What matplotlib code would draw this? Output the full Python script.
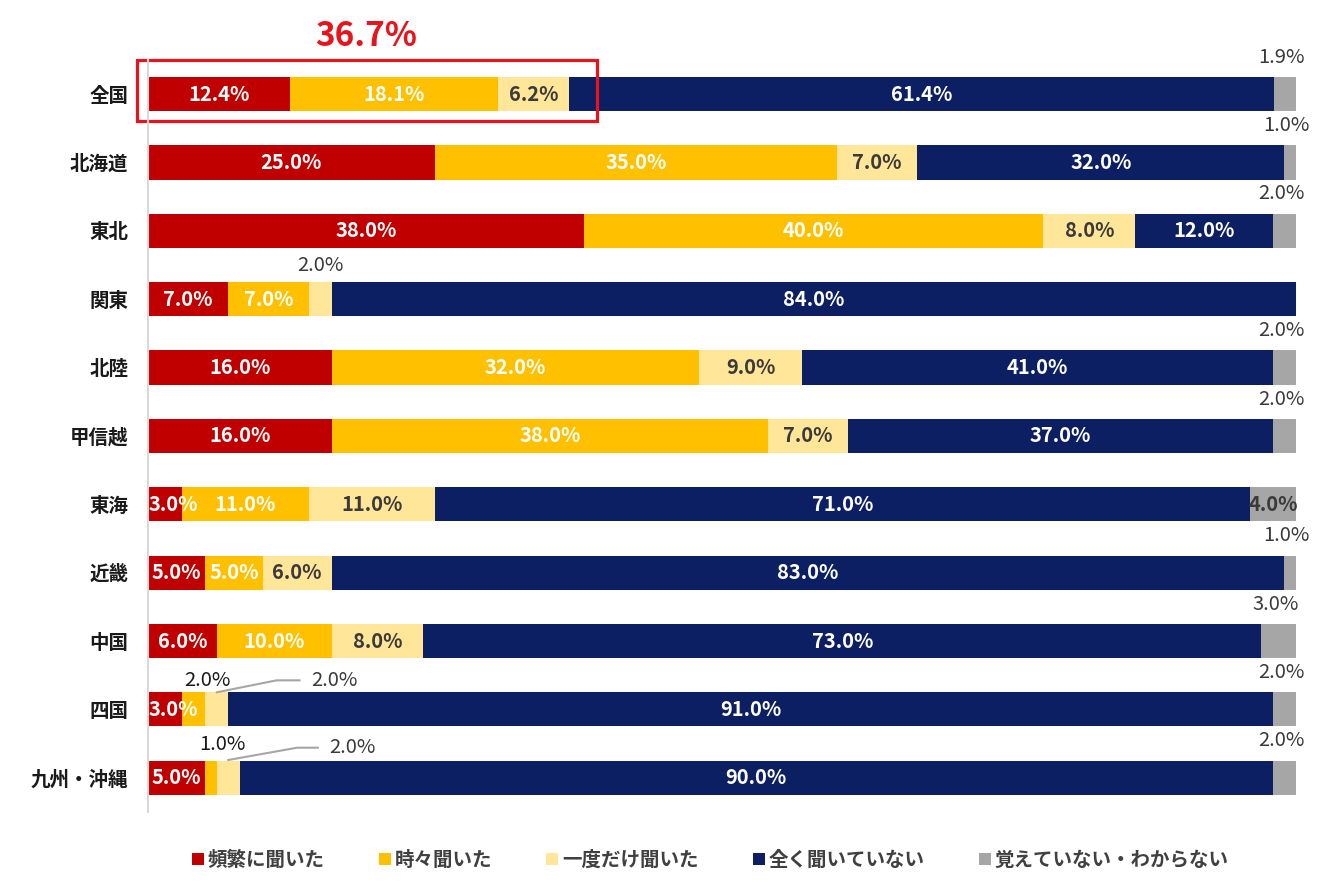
import numpy as np
import matplotlib
matplotlib.use('Agg')
import matplotlib.pyplot as plt
from matplotlib.patches import Rectangle, Patch

plt.rcParams['font.family'] = ['Noto Sans CJK JP', 'DejaVu Sans']

regions = ['全国', '北海道', '東北', '関東', '北陸', '甲信越', '東海', '近畿', '中国', '四国', '九州・沖縄']
series = ['頻繁に聞いた', '時々聞いた', '一度だけ聞いた', '全く聞いていない', '覚えていない・わからない']
often = [12.4, 25.0, 38.0, 7.0, 16.0, 16.0, 3.0, 5.0, 6.0, 3.0, 5.0]
sometimes = [18.1, 35.0, 40.0, 7.0, 32.0, 38.0, 11.0, 5.0, 10.0, 2.0, 1.0]
once = [6.2, 7.0, 8.0, 2.0, 9.0, 7.0, 11.0, 6.0, 8.0, 2.0, 2.0]
never = [61.4, 32.0, 12.0, 84.0, 41.0, 37.0, 71.0, 83.0, 73.0, 91.0, 90.0]
unknown = [1.9, 1.0, 2.0, 0.0, 2.0, 2.0, 4.0, 1.0, 3.0, 2.0, 2.0]
highlight = '36.7%'

colors = ['#C00000', '#FFC000', '#FFE699', '#0C1F62', '#A6A6A6']
text_cols = ['white', 'white', '#3A3A3A', 'white', '#3A3A3A']
FS = 14.5

fig = plt.figure(figsize=(13.4, 8.96), dpi=100)
ax = fig.add_axes([0.1104, 0.0938, 0.8567, 0.8393])

y = np.arange(len(regions))
left = np.zeros(len(regions))
data = [often, sometimes, once, never, unknown]
for k, vals in enumerate(data):
    vals = np.array(vals)
    ax.barh(y, vals, left=left, height=0.5, color=colors[k], edgecolor='none')
    for i, v in enumerate(vals):
        if v == 0:
            continue
        cx = left[i] + v / 2
        lab = f'{v:.1f}%'
        if k == 4 and v < 4:
            # small gray share: label above the bar
            ax.text(cx - 0.3, i - 0.54, lab, ha='center', va='center', fontsize=FS,
                    color='#3A3A3A')
        elif (k == 1 or k == 2) and regions[i] in ('四国', '九州・沖縄'):
            pass
        elif k == 2 and v < 3:
            ax.text(cx, i - 0.5, lab, ha='center', va='center', fontsize=FS,
                    color='#3A3A3A')
        elif k == 0 and v <= 3:
            # too narrow: start the label at the bar start
            ax.text(0.05, i, lab, ha='left', va='center', fontsize=FS,
                    color='white', fontweight='bold')
        else:
            ax.text(cx, i, lab, ha='center', va='center', fontsize=FS,
                    color=text_cols[k], fontweight='bold')
    left += vals

# callouts for the thin segments of 四国 and 九州・沖縄
ax.text(5.2, 8.57, f'{sometimes[9]:.1f}%', ha='center', va='center', fontsize=FS,
        color='#1A1A1A')
ax.plot([6.0, 11.2, 13.2], [8.75, 8.575, 8.575], color='#A6A6A6', lw=1.5, clip_on=False)
ax.text(14.2, 8.57, f'{once[9]:.1f}%', ha='left', va='center', fontsize=FS, color='#3A3A3A')

ax.text(6.5, 9.52, f'{sometimes[10]:.1f}%', ha='center', va='center', fontsize=FS,
        color='#1A1A1A')
ax.plot([7.0, 13.0, 14.8], [9.74, 9.56, 9.56], color='#A6A6A6', lw=1.5, clip_on=False)
ax.text(15.8, 9.56, f'{once[10]:.1f}%', ha='left', va='center', fontsize=FS, color='#3A3A3A')

# highlight box around 全国 heard share
ax.add_patch(Rectangle((-0.96, -0.497), 40.06, 0.892, fill=False, edgecolor='#E8141C',
                       lw=2.3, clip_on=False))
ax.text(19.0, -0.84, highlight, ha='center', va='center', fontsize=24, color='#E8141C',
        fontweight='bold')

ax.set_xlim(0, 100)
ax.set_ylim(10.5, -0.5)
ax.set_yticks(y)
ax.set_yticklabels(regions, fontsize=14, fontweight='bold', color='#1A1A1A')
ax.tick_params(axis='y', length=0, pad=14)
ax.set_xticks([])
for s in ['top', 'right', 'bottom']:
    ax.spines[s].set_visible(False)
ax.spines['left'].set_color('#D9D9D9')
ax.spines['left'].set_linewidth(1.5)

handles = [Patch(facecolor=c, edgecolor='none') for c in colors]
leg = fig.legend(handles, series, loc='center', bbox_to_anchor=(0.53, 0.04), ncol=5,
                 frameon=False, handlelength=0.6, handleheight=0.6, handletextpad=0.2,
                 columnspacing=2.8, prop={'size': 14, 'weight': 'bold'})
for t in leg.get_texts():
    t.set_color('#404040')

fig.savefig('out.png', dpi=100, facecolor='white')
